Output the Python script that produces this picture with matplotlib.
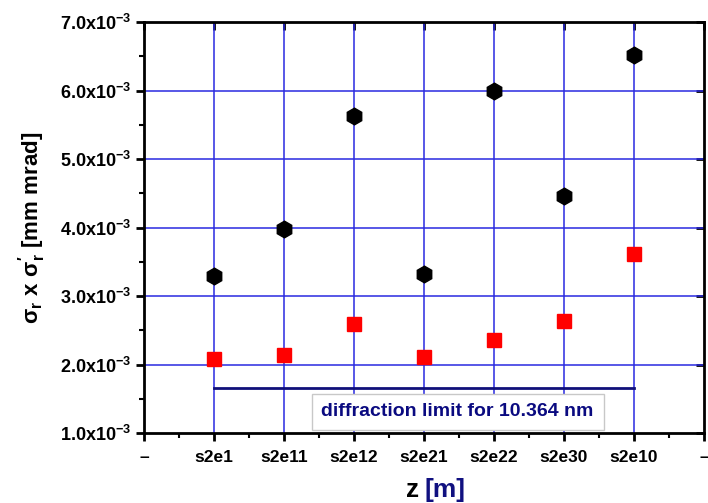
import matplotlib
matplotlib.use("Agg")
import matplotlib.pyplot as plt
from matplotlib.ticker import MultipleLocator, FixedLocator

plt.rcParams['font.family'] = ['Liberation Sans', 'DejaVu Sans']
plt.rcParams['mathtext.fontset'] = 'custom'
plt.rcParams['mathtext.rm'] = 'Liberation Sans:bold'
plt.rcParams['mathtext.it'] = 'Liberation Sans:bold'
plt.rcParams['mathtext.bf'] = 'Liberation Sans:bold'

categories = ['s2e1', 's2e11', 's2e12', 's2e21', 's2e22', 's2e30', 's2e10']
black_vals = [3.29, 3.98, 5.63, 3.32, 6.00, 4.46, 6.52]   # x 1e-3
red_vals = [2.08, 2.14, 2.59, 2.11, 2.36, 2.64, 3.61]     # x 1e-3
diff_limit = 1.66
diff_label = 'diffraction limit for 10.364 nm'
ytick_vals = [1, 2, 3, 4, 5, 6, 7]

fig = plt.figure(figsize=(7.08, 5.03), dpi=100)
ax = fig.add_axes([144/708, 1-433/503, (704-144)/708, (433-22)/503])

xs = list(range(1, len(categories)+1))
grid_c = '#2a2ae0'
for x in xs:
    ax.axvline(x, color=grid_c, lw=1.1, zorder=1)
for y in ytick_vals[1:-1]:
    ax.axhline(y, color=grid_c, lw=1.1, zorder=1)

ax.plot(xs, black_vals, linestyle='none', marker='h', ms=12, color='black', zorder=4)
ax.plot(xs, red_vals, linestyle='none', marker='s', ms=9.5, color='#ff0000', zorder=4)

ax.plot([xs[0], xs[-1]], [diff_limit, diff_limit], color='#10107a', lw=2, zorder=3)
ax.text(4.48, 1.31, diff_label, color='#0a0a80', fontsize=14, fontweight='bold',
        ha='center', va='center', zorder=5,
        bbox=dict(boxstyle='square,pad=0.5', facecolor='white', edgecolor='#c8c8c8', lw=1))

ax.set_xlim(0, 8)
ax.set_ylim(1, 7)
ax.xaxis.set_major_locator(FixedLocator(list(range(0, 9))))
ax.set_xticklabels(['\u2013'] + categories + ['\u2013'])
ax.xaxis.set_minor_locator(MultipleLocator(0.5))
ax.yaxis.set_major_locator(FixedLocator(ytick_vals))
ax.set_yticklabels([r'$\mathbf{%.1fx10^{-3}}$' % v for v in ytick_vals])
ax.yaxis.set_minor_locator(MultipleLocator(0.5))

for s in ax.spines.values():
    s.set_linewidth(2)
    s.set_color('black')
ax.tick_params(axis='both', which='major', length=6, width=2, labelsize=13, direction='out')
ax.tick_params(axis='both', which='minor', length=3.5, width=1.5, direction='out')
ax.tick_params(axis='x', pad=6, labelsize=12.5)
for lbl in ax.get_xticklabels():
    lbl.set_fontweight('bold')

# mirrored inward ticks on top/right
axt = ax.secondary_xaxis('top')
axt.set_xticks(list(range(0, 9)))
axt.set_xticklabels([])
axt.tick_params(direction='in', length=6, width=2)
axt.spines['top'].set_visible(False)
axr = ax.secondary_yaxis('right')
axr.set_yticks(ytick_vals)
axr.set_yticklabels([])
axr.tick_params(direction='in', length=6, width=2)
axr.spines['right'].set_visible(False)

ax.set_ylabel(r"$\mathbf{σ_r\ x\ σ_r'\ [mm\ mrad]}$", fontsize=16, labelpad=8)
fig.text(0.592, 0.002, 'z', fontsize=19, fontweight='bold', color='black', ha='right', va='bottom')
fig.text(0.600, 0.002, '[m]', fontsize=19, fontweight='bold', color='#101080', ha='left', va='bottom')

fig.savefig('out.png', dpi=100)
